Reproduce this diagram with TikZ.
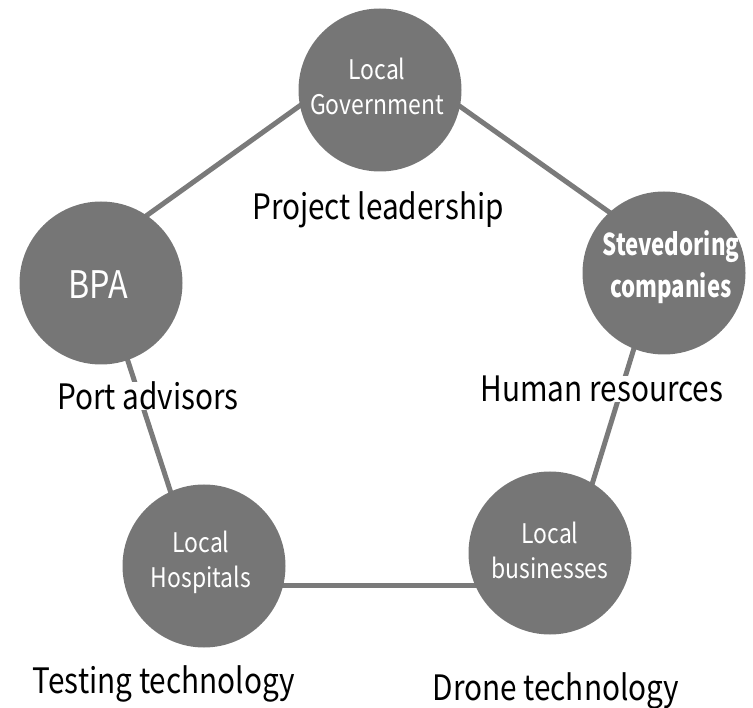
\documentclass[tikz,border=0pt]{standalone}
\usepackage{fontspec}
\setmainfont{Noto Sans CJK KR}
\newfontfamily\labfont[FakeStretch=0.85]{Noto Sans CJK KR}
\newfontfamily\circfont[FakeStretch=0.85]{Noto Sans CJK KR}
\newfontfamily\boldcirc[FakeStretch=0.74]{Noto Sans CJK KR}
\definecolor{circgray}{RGB}{118,118,118}
\definecolor{linegray}{RGB}{122,122,122}
\tikzset{
  hub/.style={circle, fill=circgray, draw=none, minimum size=163pt, inner sep=0pt},
  hubtext/.style={text=white, align=center, inner sep=0pt, font=\circfont\fontsize{27}{35}\selectfont},
  edge/.style={draw=linegray, line width=5pt},
  caption/.style={anchor=base, text=black, fill=white, inner xsep=2pt, inner ysep=0pt,
                  font=\labfont\fontsize{35}{40}\selectfont}
}
\begin{document}
\begin{tikzpicture}[x=1pt,y=-1pt]
\useasboundingbox (0,0) rectangle (753,708);
% pentagon corners
\coordinate (pA) at (379,49);
\coordinate (pB) at (93,254);
\coordinate (pC) at (664,251);
\coordinate (pD) at (201,585);
\coordinate (pE) at (561,585);
\draw[edge] (pA) -- (pB);
\draw[edge] (pA) -- (pC);
\draw[edge] (pB) -- (pD);
\draw[edge] (pC) -- (pE);
\draw[edge] (pD) -- (pE);
% hubs
\node[hub] (gov) at (380,90) {};
\node[hub] (bpa) at (101,283) {};
\node[hub] (stev) at (664,273) {};
\node[hub] (hosp) at (204,566) {};
\node[hub] (bus) at (550,553) {};
\node[hubtext] (govtext) at (377,86) {Local\\Government};
\node[hubtext, font=\circfont\fontsize{38}{40}\selectfont] (bpatext) at (98,285) {BPA};
\node[hubtext, font=\boldcirc\bfseries\fontsize{30}{42}\selectfont] (stevtext) at (671,267) {Stevedoring\\companies};
\node[hubtext] (hosptext) at (201,562) {Local\\Hospitals};
\node[hubtext] (bustext) at (550,550) {Local\\businesses};
% captions
\node[caption] (capgov) at (378,220) {Project leadership};
\node[caption] (capbpa) at (148,410) {Port advisors};
\node[caption] (capstev) at (602,402) {Human resources};
\node[caption] (caphosp) at (164,693) {Testing technology};
\node[caption] (capbus) at (556,700) {Drone technology};
\end{tikzpicture}
\end{document}
